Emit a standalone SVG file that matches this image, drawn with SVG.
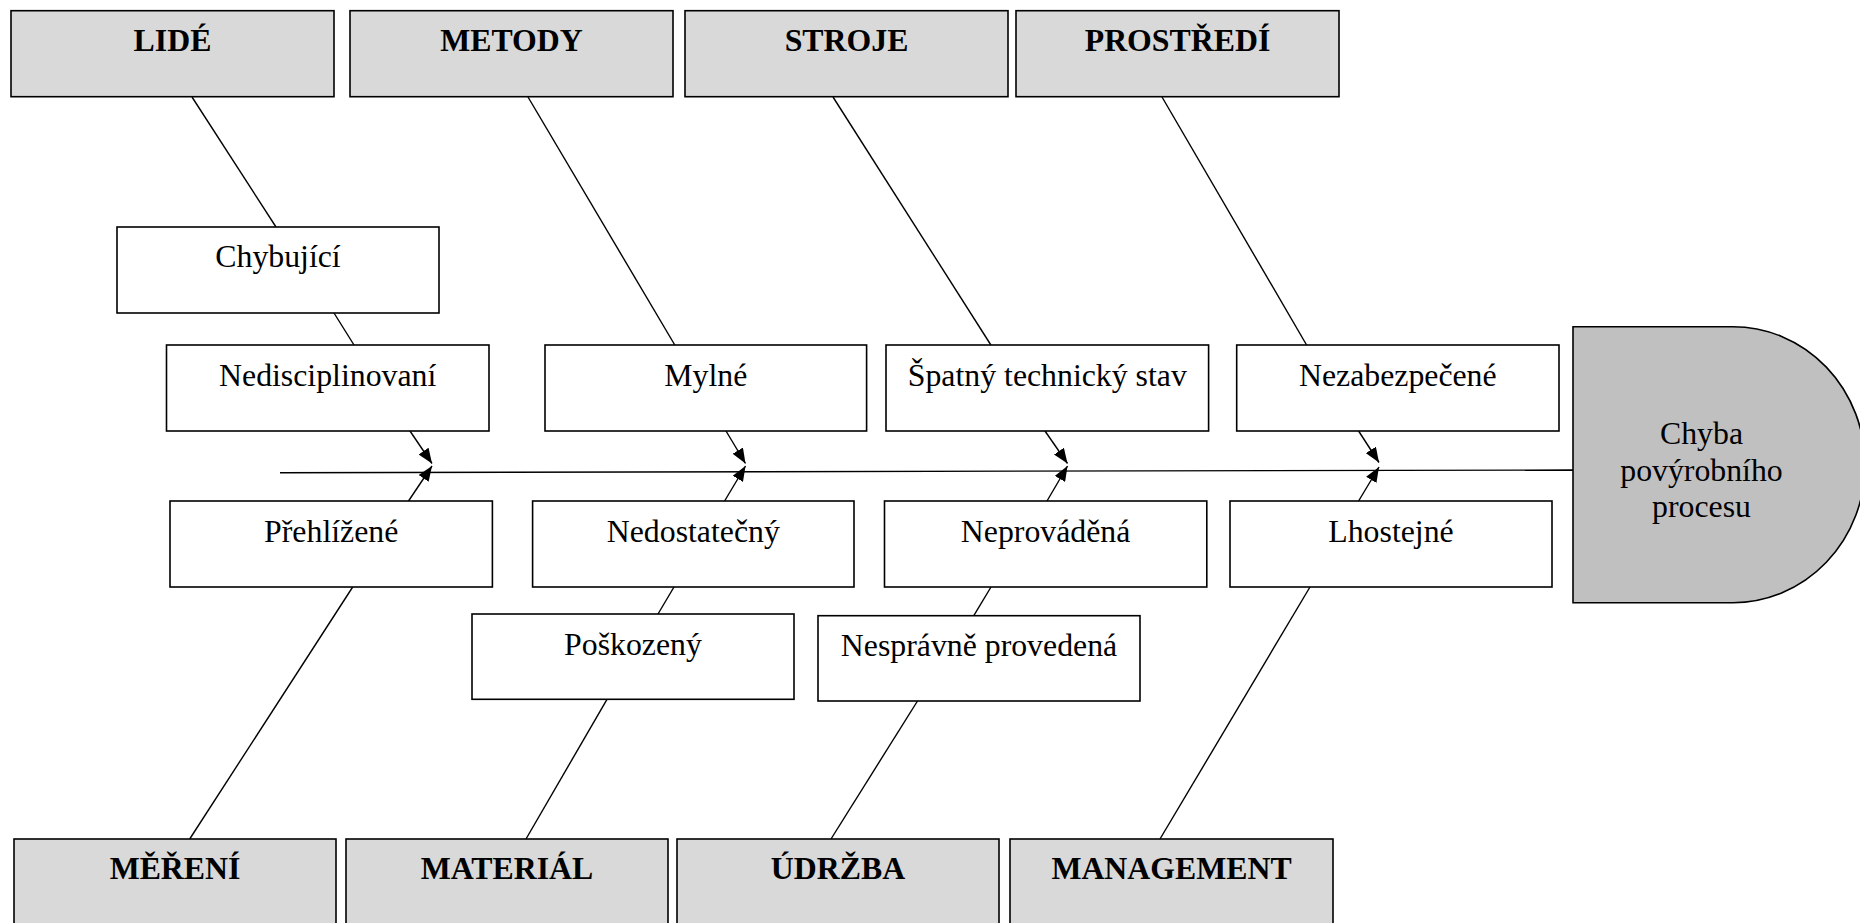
<svg xmlns="http://www.w3.org/2000/svg" width="1860" height="923" viewBox="0 0 1860 923">
<style>
.cat{fill:#d9d9d9;stroke:#000;stroke-width:1.6}
.box{fill:#fff;stroke:#000;stroke-width:1.6}
.head{fill:#c0c0c0;stroke:#000;stroke-width:1.6}
.t{font-family:"Liberation Serif","Times New Roman",serif;font-size:31.8px;fill:#000;text-anchor:middle}
.tb{font-family:"Liberation Serif","Times New Roman",serif;font-size:31.8px;font-weight:bold;fill:#000;text-anchor:middle}
.ln{stroke:#000;stroke-width:1.4;fill:none}
.ar{stroke:#000;stroke-width:1.4;fill:none;marker-end:url(#ah)}
</style>
<defs>
<marker id="ah" markerUnits="userSpaceOnUse" markerWidth="15" markerHeight="12" refX="15" refY="6" orient="auto">
<path d="M0,0 L15,6 L0,12 z" fill="#000"/>
</marker>
</defs>
<rect width="1860" height="923" fill="#fff"/>
<g id="connectors">
<line class="ln" x1="280" y1="472.7" x2="1573" y2="470"/>
<line class="ln" x1="192" y1="97" x2="276" y2="227"/>
<line class="ln" x1="334" y1="313" x2="354" y2="345"/>
<line class="ln" x1="528" y1="97" x2="674.8" y2="345"/>
<line class="ln" x1="833" y1="97" x2="990.9" y2="345"/>
<line class="ln" x1="1162" y1="97" x2="1306.6" y2="345"/>
<line class="ln" x1="352.7" y1="587" x2="189.7" y2="839"/>
<line class="ln" x1="674" y1="587" x2="658" y2="614"/>
<line class="ln" x1="607" y1="699.3" x2="526" y2="839"/>
<line class="ln" x1="991" y1="587" x2="973.8" y2="615.7"/>
<line class="ln" x1="917.5" y1="701" x2="831" y2="839"/>
<line class="ln" x1="1310" y1="587" x2="1160" y2="839"/>
<line class="ar" x1="410" y1="431" x2="432" y2="463.5"/>
<line class="ar" x1="408.5" y1="501" x2="432" y2="466"/>
<line class="ar" x1="726" y1="431" x2="745.5" y2="463.5"/>
<line class="ar" x1="724.6" y1="501" x2="745.5" y2="466"/>
<line class="ar" x1="1045" y1="431" x2="1067.5" y2="463.5"/>
<line class="ar" x1="1047" y1="501" x2="1067.5" y2="466"/>
<line class="ar" x1="1358.6" y1="431" x2="1379" y2="462.5"/>
<line class="ar" x1="1358.6" y1="501" x2="1379" y2="467"/>
</g>
<g id="lide"><rect class="cat" x="11" y="10.7" width="323" height="86"/><text class="tb" x="172.5" y="51">LIDÉ</text></g>
<g id="metody"><rect class="cat" x="350" y="10.7" width="323" height="86"/><text class="tb" x="511.5" y="51">METODY</text></g>
<g id="stroje"><rect class="cat" x="685" y="10.7" width="323" height="86"/><text class="tb" x="846.5" y="51">STROJE</text></g>
<g id="prostredi"><rect class="cat" x="1016" y="10.7" width="323" height="86"/><text class="tb" x="1177.5" y="51">PROSTŘEDÍ</text></g>
<g id="mereni"><rect class="cat" x="14" y="839" width="322" height="100"/><text class="tb" x="175" y="879">MĚŘENÍ</text></g>
<g id="material"><rect class="cat" x="346" y="839" width="322" height="100"/><text class="tb" x="507" y="879">MATERIÁL</text></g>
<g id="udrzba"><rect class="cat" x="677" y="839" width="322" height="100"/><text class="tb" x="838" y="879">ÚDRŽBA</text></g>
<g id="management"><rect class="cat" x="1010" y="839" width="323" height="100"/><text class="tb" x="1171.5" y="879">MANAGEMENT</text></g>
<g id="chybujici"><rect class="box" x="117" y="227" width="322" height="86"/><text class="t" x="278" y="267">Chybující</text></g>
<g id="nedisciplinovani"><rect class="box" x="166.5" y="345" width="322.5" height="86"/><text class="t" x="327.7" y="385.5">Nedisciplinovaní</text></g>
<g id="mylne"><rect class="box" x="545" y="345" width="321.6" height="86"/><text class="t" x="705.8" y="385.5">Mylné</text></g>
<g id="spatny"><rect class="box" x="886" y="345" width="322.6" height="86"/><text class="t" x="1047.3" y="385.5">Špatný technický stav</text></g>
<g id="nezabezpecene"><rect class="box" x="1236.7" y="345" width="322.3" height="86"/><text class="t" x="1397.8" y="385.5">Nezabezpečené</text></g>
<g id="prehlizene"><rect class="box" x="170" y="501" width="322.4" height="86"/><text class="t" x="331.2" y="541.5">Přehlížené</text></g>
<g id="nedostatecny"><rect class="box" x="532.6" y="501" width="321.4" height="86"/><text class="t" x="693.3" y="541.5">Nedostatečný</text></g>
<g id="neprovadena"><rect class="box" x="884.5" y="501" width="322.3" height="86"/><text class="t" x="1045.6" y="541.5">Neprováděná</text></g>
<g id="lhostejne"><rect class="box" x="1230" y="501" width="322" height="86"/><text class="t" x="1391" y="541.5">Lhostejné</text></g>
<g id="poskozeny"><rect class="box" x="472" y="614" width="322" height="85.3"/><text class="t" x="633" y="654.5">Poškozený</text></g>
<g id="nespravne"><rect class="box" x="818" y="615.7" width="322" height="85.3"/><text class="t" x="979" y="656">Nesprávně provedená</text></g>
<g id="chyba">
<path class="head" d="M1573,326.7 L1733,326.7 A132,138 0 0 1 1733,602.7 L1573,602.7 Z"/>
<text class="t" x="1701.5" y="444.3">Chyba</text>
<text class="t" x="1701.5" y="480.8">povýrobního</text>
<text class="t" x="1701.5" y="517.3">procesu</text>
</g>
</svg>
